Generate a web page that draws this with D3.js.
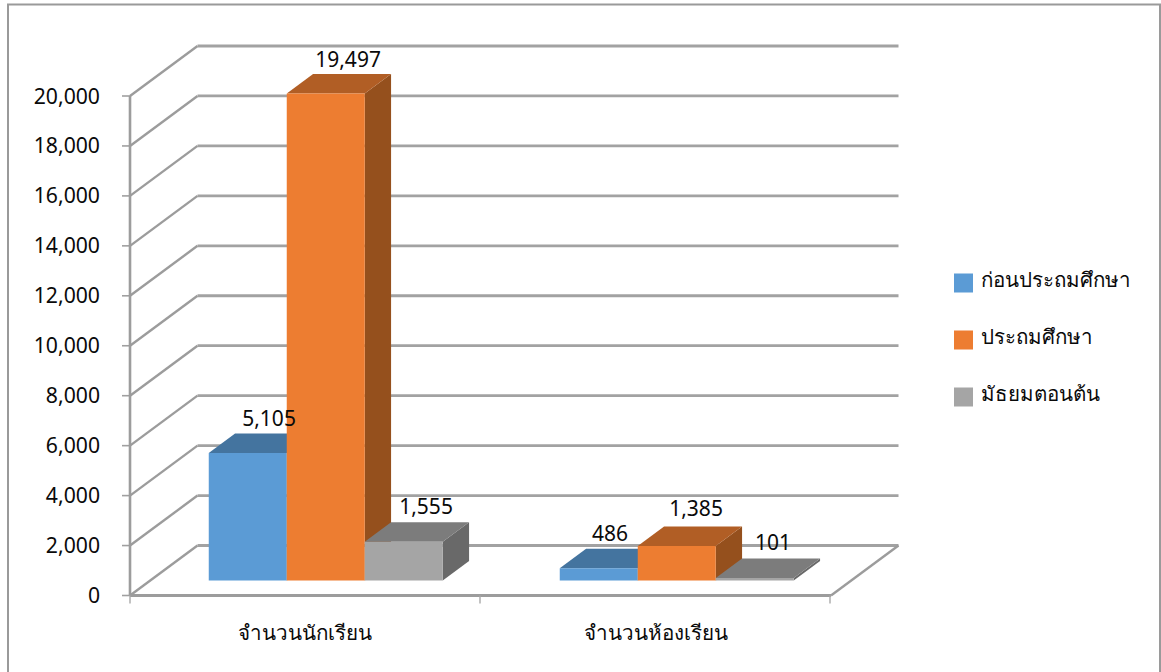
<!DOCTYPE html>
<html><head><meta charset="utf-8">
<script src="https://cdn.jsdelivr.net/npm/d3@7"></script>
<style>html,body{margin:0;background:#fff}svg{display:block}text{fill:#0a0a0a}.n{font-family:"Noto Sans",sans-serif}.t{font-family:"DejaVu Sans","Noto Sans",sans-serif}</style>
</head><body><svg id="c" width="1161" height="672"></svg>
<script>
const categories=["จำนวนนักเรียน","จำนวนห้องเรียน"];
const seriesNames=["ก่อนประถมศึกษา","ประถมศึกษา","มัธยมตอนต้น"];
const preschool=[5105,486];
const primary=[19497,1385];
const lowerSecondary=[1555,101];
const yTicks=[0,2000,4000,6000,8000,10000,12000,14000,16000,18000,20000];
const front=["#5B9BD5","#ED7D31","#A5A5A5"],top_=["#44749F","#B15E25","#7C7C7C"],side=["#3D6A92","#95501D","#696969"];
const series=[preschool,primary,lowerSecondary];
const labelNudgeX=[[-4,-3,-3],[-14,-6,-7]],labelNudgeY=[[-2,-1,-2],[-2,-4,-2]];
const svg=d3.select("#c");
const grid="#9c9c9c";
const fmt=d3.format(",");
svg.append("rect").attr("x",8).attr("y",4.5).attr("width",1152).attr("height",680).attr("fill","#fff").attr("stroke","#9a9a9a").attr("stroke-width",2);
const x=d3.scaleBand().domain(categories).range([130,832]);
const y=d3.scaleLinear().domain([0,20000]).range([595.5,96]);
const DX=67.5,DY=-50,R=831;
const P=(px,v,d)=>[px+DX*d,y(v)+DY*d];
const g=svg.append("g");
const line=(a,b,w,c)=>g.append("line").attr("x1",a[0]).attr("y1",a[1]).attr("x2",b[0]).attr("y2",b[1]).attr("stroke",c||grid).attr("stroke-width",w||2);
yTicks.forEach(t=>{
  line(P(130,t,0),P(130,t,1),2.4);
  line(P(130,t,1),P(R,t,1),2.8,"#a2a2a2");
  line([122,y(t)],[130,y(t)],1.6,"#a0a0a0");
  g.append("text").attr("class","n").attr("x",100).attr("y",y(t)+7.5).attr("text-anchor","end").attr("font-size",21.2).text(fmt(t));
});
line(P(130,0,0),P(130,20000,0),2.6);
line(P(R,0,0),P(R,0,1),2.4);
line(P(130,0,0),P(R,0,0),3);
[130,480,830].forEach(v=>line([v,y(0)],[v,y(0)+8],1.4,"#a8a8a8"));
categories.forEach(c=>g.append("text").attr("class","t").attr("x",x(c)+x.bandwidth()/2-0.5).attr("y",640).attr("text-anchor","middle").attr("font-size",20.6).text(c));
const bw=78,d0=0.30,d1=0.69;
const poly=(pts,f)=>g.append("polygon").attr("points",pts.map(p=>p.join(",")).join(" ")).attr("fill",f);
categories.forEach((c,ci)=>{
  const gx=x(c)+(x.bandwidth()-bw*3)/2;
  series.forEach((s,si)=>{
    const v=s[ci],l=gx+si*bw,r=l+bw;
    poly([P(r,0,d0),P(r,0,d1),P(r,v,d1),P(r,v,d0)],side[si]);
    poly([P(l,v,d0),P(r,v,d0),P(r,v,d1),P(l,v,d1)],top_[si]);
    poly([P(l,0,d0),P(r,0,d0),P(r,v,d0),P(l,v,d0)],front[si]);
  });
});
categories.forEach((c,ci)=>{
  const gx=x(c)+(x.bandwidth()-bw*3)/2;
  series.forEach((s,si)=>{
    const v=s[ci],p=P(gx+si*bw+bw/2,v,d1);
    g.append("text").attr("class","n").attr("x",p[0]-1+labelNudgeX[ci][si]).attr("y",p[1]-6+labelNudgeY[ci][si]).attr("text-anchor","middle").attr("font-size",21).text(fmt(v));
  });
});
const legY=d3.scalePoint().domain(seriesNames).range([282,396]);
seriesNames.forEach((n,i)=>{
  g.append("rect").attr("x",954).attr("y",legY(n)-8.5).attr("width",19).attr("height",19).attr("fill",front[i]);
  g.append("text").attr("class","t").attr("x",981).attr("y",legY(n)+5).attr("font-size",20.5).text(n);
});
</script></body></html>
